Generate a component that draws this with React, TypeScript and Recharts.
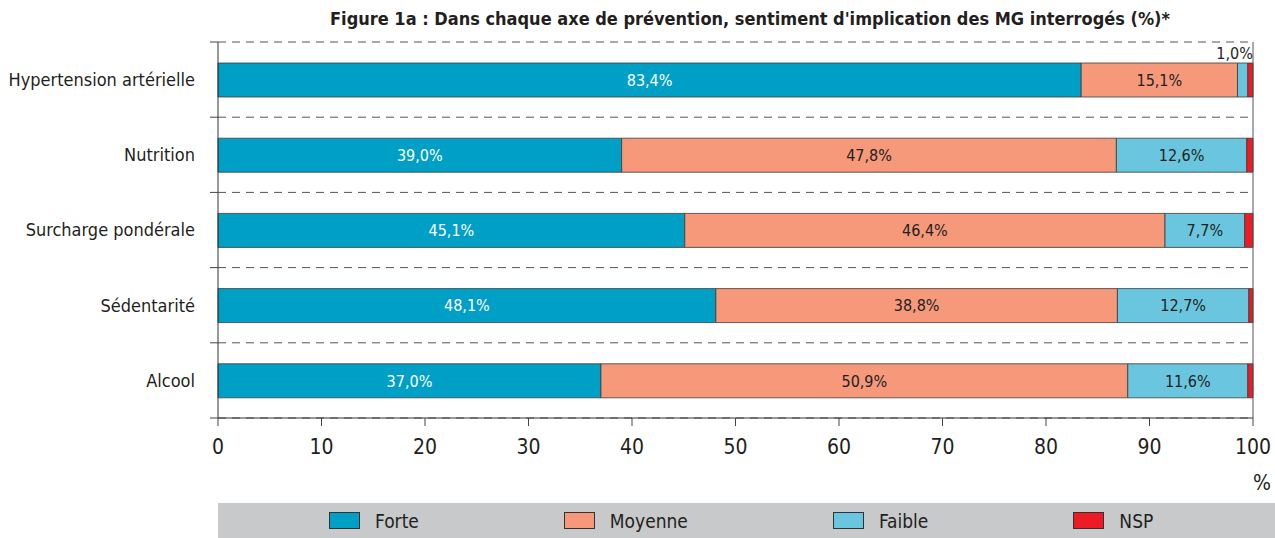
import React from "react";
import {
  BarChart, Bar, XAxis, YAxis, CartesianGrid, LabelList, ReferenceLine,
} from "recharts";

const CATEGORIES = ["Hypertension artérielle", "Nutrition", "Surcharge pondérale", "Sédentarité", "Alcool"];
const FORTE = [83.4, 39.0, 45.1, 48.1, 37.0];
const MOYENNE = [15.1, 47.8, 46.4, 38.8, 50.9];
const FAIBLE = [1.0, 12.6, 7.7, 12.7, 11.6];
const NSP = [0.5, 0.6, 0.8, 0.4, 0.5];
const X_TICKS = [0, 10, 20, 30, 40, 50, 60, 70, 80, 90, 100];

const SERIES = [
  { key: "forte", name: "Forte", color: "#00A0C6", label: "#ffffff" },
  { key: "moyenne", name: "Moyenne", color: "#F5997A", label: "#231f20" },
  { key: "faible", name: "Faible", color: "#6AC6DF", label: "#231f20" },
  { key: "nsp", name: "NSP", color: "#ED1C24", label: null },
];

const data = CATEGORIES.map((name, i) => ({
  name,
  forte: FORTE[i],
  moyenne: MOYENNE[i],
  faible: FAIBLE[i],
  nsp: NSP[i],
}));

const FONT = "'DejaVu Sans Condensed', 'Liberation Sans', sans-serif";
const fmt = (v: number) => v.toFixed(1).replace(".", ",") + "%";

// small segments get their label above the bar, right aligned
const SegLabel = (fill: string) => (props: any) => {
  const { x, y, width, height, value } = props;
  if (value == null) return null;
  if (width < 30) {
    return (
      <text x={x + width + 5} y={y - 4} textAnchor="end" fontSize={16} fontFamily={FONT} fill="#231f20">
        {fmt(value)}
      </text>
    );
  }
  return (
    <text x={x + width / 2} y={y + height / 2} dy="0.36em" textAnchor="middle" fontSize={16} fontFamily={FONT} fill={fill}>
      {fmt(value)}
    </text>
  );
};

// category label + tick marks on the band edges (not the centre)
const CatTick = (props: any) => {
  const { x, y, payload, index } = props;
  const half = payload.offset || 0;
  const edge = x + 23; // axis line position
  return (
    <g>
      <line x1={edge - 8} x2={edge} y1={y - half} y2={y - half} stroke="#444" />
      {index === CATEGORIES.length - 1 && (
        <line x1={edge - 8} x2={edge} y1={y + half} y2={y + half} stroke="#444" />
      )}
      <text x={x} y={y} dy="0.36em" textAnchor="end" fontSize={18} fontFamily={FONT} fill="#231f20">
        {payload.value}
      </text>
    </g>
  );
};

// dashed separators between the category bands
const bandEdges = ({ offset }: any) => {
  const n = CATEGORIES.length;
  const step = offset.height / n;
  return Array.from({ length: n + 1 }, (_, i) => offset.top + i * step);
};

export default function App() {
  return (
    <div style={{ position: "absolute", left: 0, top: 0, width: 1275, height: 538, background: "#fff", fontFamily: FONT }}>
      <div style={{ position: "absolute", top: 8, left: 218, width: 1064, textAlign: "center", fontWeight: "bold", fontSize: 18, color: "#231f20" }}>
        Figure 1a : Dans chaque axe de prévention, sentiment d'implication des MG interrogés (%)*
      </div>
      <BarChart
        width={1275}
        height={538}
        data={data}
        layout="vertical"
        margin={{ top: 42, right: 22, bottom: 80, left: 0 }}
        style={{ position: "absolute", left: 0, top: 0 }}
      >
        <CartesianGrid
          horizontal
          vertical={false}
          stroke="#555"
          strokeDasharray="8 6"
          horizontalCoordinatesGenerator={bandEdges}
        />
        <XAxis
          type="number"
          domain={[0, 100]}
          ticks={X_TICKS}
          interval={0}
          height={40}
          tickSize={8}
          tickMargin={13}
          axisLine={{ stroke: "#333" }}
          tickLine={{ stroke: "#444" }}
          tick={{ fontSize: 21, fontFamily: FONT, fill: "#231f20" }}
        />
        <YAxis
          type="category"
          dataKey="name"
          width={218}
          axisLine={{ stroke: "#333" }}
          tickLine={false}
          tickSize={6}
          tickMargin={17}
          tick={CatTick}
        />
        <ReferenceLine x={100} stroke="#555" />
        {SERIES.map((s) => (
          <Bar
            key={s.key}
            dataKey={s.key}
            name={s.name}
            stackId="a"
            fill={s.color}
            stroke="#3a3a3a"
            strokeWidth={0.8}
            barSize={34}
            isAnimationActive={false}
          >
            {s.label && <LabelList dataKey={s.key} content={SegLabel(s.label)} />}
          </Bar>
        ))}
      </BarChart>
      <div style={{ position: "absolute", left: 1250, top: 471, width: 24, textAlign: "center", fontSize: 21, color: "#231f20" }}>%</div>
      <div style={{ position: "absolute", left: 218, top: 503, width: 1057, height: 35, background: "#C8C9CA", display: "flex", alignItems: "center", paddingLeft: 111, boxSizing: "border-box", gap: 145 }}>
        {SERIES.map((s) => (
          <div key={s.key} style={{ display: "flex", alignItems: "center" }}>
            <div style={{ width: 29, height: 15, background: s.color, border: "1px solid #333", marginRight: 15 }} />
            <span style={{ fontSize: 19, color: "#231f20" }}>{s.name}</span>
          </div>
        ))}
      </div>
    </div>
  );
}
